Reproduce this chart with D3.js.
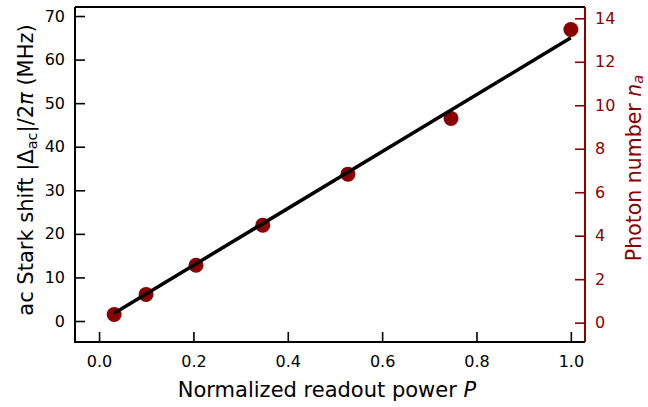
<!DOCTYPE html>
<html><head><meta charset="utf-8">
<script src="https://cdn.jsdelivr.net/npm/d3@7"></script>
<style>body{margin:0;background:#fff}svg{display:block;font-family:"DejaVu Sans",sans-serif}</style>
</head><body><svg id="c" width="648" height="407"></svg>
<script>
const power = [0.032, 0.0996, 0.2055, 0.347, 0.5275, 0.746, 1.0];
const shift = [1.5, 6.1, 12.8, 22.0, 33.7, 46.5, 66.9];
const fitX = [0.032, 1.0];
const fitY = [1.8, 65.0];
const xTicks = [0, 0.2, 0.4, 0.6, 0.8, 1.0];
const yTicks = [0, 10, 20, 30, 40, 50, 60, 70];
const nTicks = [0, 2, 4, 6, 8, 10, 12, 14];
const red = "#8b0000";

const svg = d3.select("#c");
const L = 75, R = 585, T = 7, B = 342;
const x = d3.scaleLinear().domain([-0.051, 1.03]).range([L, R]);
const y = d3.scaleLinear().domain([-4.82, 72.07]).range([B, T]);
const y2 = d3.scaleLinear().domain([-0.89, 14.52]).range([B, T]);

// points
svg.selectAll("circle.p").data(power).join("circle")
  .attr("cx",(d)=>x(d)).attr("cy",(d,i)=>y(shift[i])).attr("r",7.5).attr("fill",red);
// fit line
svg.append("path").datum(fitX.map((d,i)=>[d,fitY[i]]))
  .attr("d", d3.line().x(d=>x(d[0])).y(d=>y(d[1])))
  .attr("stroke","#000").attr("stroke-width",3.5).attr("fill","none");

// axes
const ax = svg.append("g").attr("transform",`translate(0,${B})`)
  .call(d3.axisBottom(x).tickValues(xTicks).tickFormat(d3.format(".1f")).tickSizeInner(-10).tickSizeOuter(0).tickPadding(14));
const ay = svg.append("g").attr("transform",`translate(${L},0)`)
  .call(d3.axisLeft(y).tickValues(yTicks).tickFormat(d3.format("d")).tickSizeInner(-10).tickSizeOuter(0).tickPadding(10));
const ay2 = svg.append("g").attr("transform",`translate(${R},0)`)
  .call(d3.axisRight(y2).tickValues(nTicks).tickFormat(d3.format("d")).tickSizeInner(-10).tickSizeOuter(0).tickPadding(10));
[ax,ay,ay2].forEach(g=>{g.selectAll("text").attr("font-size",16).attr("font-family","DejaVu Sans");
  g.selectAll(".tick line").attr("stroke-width",1.6);});
ax.select(".domain").remove(); ay.select(".domain").remove(); ay2.select(".domain").remove();
ax.selectAll("text").attr("fill","#000");
ay.selectAll("text").attr("fill","#000");
ay2.selectAll("text").attr("fill",red);
ay2.selectAll(".tick line").attr("stroke",red);
// spines
svg.append("path").attr("d",`M${L},${T}H${R}`).attr("stroke","#000").attr("stroke-width",2);
svg.append("path").attr("d",`M${L},${T}V${B}H${R}`).attr("stroke","#000").attr("stroke-width",2).attr("fill","none");
svg.append("path").attr("d",`M${R},${T}V${B}`).attr("stroke",red).attr("stroke-width",2);

// labels
const xl = svg.append("text").attr("x",327).attr("y",397).attr("text-anchor","middle").attr("font-size",21);
xl.append("tspan").text("Normalized readout power ");
xl.append("tspan").attr("font-style","italic").text("P");

const yl = svg.append("text").attr("transform",`translate(33,170) rotate(-90)`).attr("text-anchor","middle").attr("font-size",21);
yl.append("tspan").text("ac Stark shift |Δ");
yl.append("tspan").attr("font-size",14.5).attr("dy",4).text("ac");
yl.append("tspan").attr("dy",-4).text("|/2");
yl.append("tspan").attr("font-style","italic").text("π");
yl.append("tspan").text(" (MHz)");

const rl = svg.append("text").attr("transform",`translate(641,168) rotate(-90)`).attr("text-anchor","middle").attr("font-size",20.5).attr("fill",red);
rl.append("tspan").text("Photon number ");
rl.append("tspan").attr("font-style","italic").text("n");
rl.append("tspan").attr("font-style","italic").attr("font-size",14.5).attr("dy",2).text("a");
</script></body></html>
